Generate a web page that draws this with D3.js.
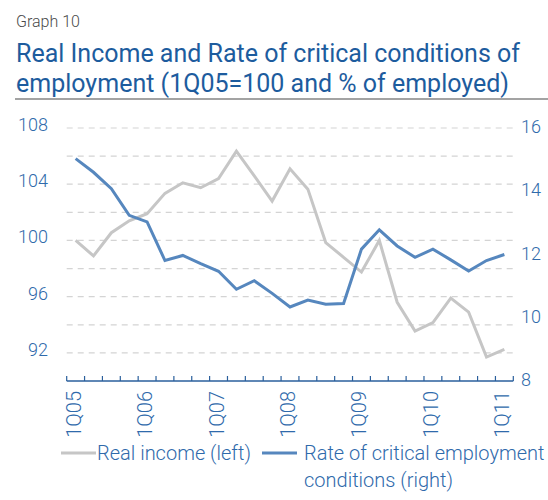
<!DOCTYPE html>
<html>
<head>
<meta charset="utf-8">
<script src="https://cdn.jsdelivr.net/npm/d3@7"></script>
<style>
  html, body { margin: 0; padding: 0; background: #fff; }
  svg { display: block; font-family: Roboto, "Noto Sans", sans-serif; }
</style>
</head>
<body>
<svg id="chart" width="548" height="500"></svg>
<script>
// Quarterly categories, 1Q05 .. 1Q11
const quarters = [
  "1Q05","2Q05","3Q05","4Q05",
  "1Q06","2Q06","3Q06","4Q06",
  "1Q07","2Q07","3Q07","4Q07",
  "1Q08","2Q08","3Q08","4Q08",
  "1Q09","2Q09","3Q09","4Q09",
  "1Q10","2Q10","3Q10","4Q10",
  "1Q11"
];
// Real income index (1Q05 = 100), left axis
const realIncome = [
  100.0, 98.9, 100.55, 101.4,
  101.9, 103.35, 104.1, 103.75,
  104.4, 106.35, 104.6, 102.8,
  105.1, 103.65, 99.85, 98.8,
  97.75, 100.0, 95.6, 93.55,
  94.15, 95.9, 94.9, 91.7,
  92.25
];
// Rate of critical employment conditions (% of employed), right axis
const criticalRate = [
  15.03, 14.6, 14.08, 13.24,
  13.03, 11.81, 11.97, 11.71,
  11.47, 10.9, 11.17, 10.77,
  10.34, 10.56, 10.43, 10.45,
  12.17, 12.78, 12.27, 11.91,
  12.17, 11.83, 11.48, 11.81,
  12.0
];
const leftTicks = [92, 96, 100, 104, 108];
const rightTicks = [8, 10, 12, 14, 16];
const gridValues = [92, 94, 96, 98, 100, 102, 104, 106, 108];
const labelledQuarters = ["1Q05","1Q06","1Q07","1Q08","1Q09","1Q10","1Q11"];

const svg = d3.select("#chart");
const plot = { left: 66.7, right: 513.3, top: 128, bottom: 381 };

const blueText = "#2f6aab";
const blueLine = "#5687be";
const greyLine = "#c6c6c6";

// Heading
svg.append("text").attr("x", 16).attr("y", 27)
  .attr("font-size", 16).attr("fill", "#4a4a4a").attr("font-weight", 300)
  .text("Graph 10");
svg.append("text").attr("x", 16).attr("y", 62)
  .attr("font-size", 25).attr("fill", "#1d5c9e")
  .text("Real Income and Rate of critical conditions of");
svg.append("text").attr("x", 16).attr("y", 92)
  .attr("font-size", 25).attr("fill", "#1d5c9e")
  .text("employment (1Q05=100 and % of employed)");
svg.append("line").attr("x1", 15).attr("x2", 548).attr("y1", 99).attr("y2", 99)
  .attr("stroke", "#a3a3a3").attr("stroke-width", 2);

// Scales
const x = d3.scaleBand().domain(quarters).range([plot.left, plot.right]).padding(0);
const yLeft = d3.scaleLinear().domain([90, 108]).range([plot.bottom, plot.top]);
const yRight = d3.scaleLinear().domain([8, 16]).range([plot.bottom, plot.top]);
const cx = q => x(q) + x.bandwidth() / 2;

// Dashed gridlines
svg.append("g").selectAll("line").data(gridValues).join("line")
  .attr("x1", plot.left).attr("x2", plot.right + 1)
  .attr("y1", d => yLeft(d)).attr("y2", d => yLeft(d))
  .attr("stroke", "#d4d4d4").attr("stroke-width", 1.2)
  .attr("stroke-dasharray", "6,5");

// Left axis labels
svg.append("g").selectAll("text").data(leftTicks).join("text")
  .attr("x", 48).attr("y", d => yLeft(d) + 3)
  .attr("text-anchor", "end").attr("font-size", 18).attr("font-weight", 300)
  .attr("fill", blueText).text(d => d);

// Right axis labels
svg.append("g").selectAll("text").data(rightTicks).join("text")
  .attr("x", 521).attr("y", d => yRight(d) + 5)
  .attr("text-anchor", "start").attr("font-size", 18).attr("font-weight", 300)
  .attr("fill", blueText).text(d => d);

// Category axis with tick marks at band boundaries
const boundaries = quarters.map(q => x(q)).concat([x.range()[1]]);
const axis = svg.append("g");
axis.append("line").attr("x1", plot.left).attr("x2", plot.right)
  .attr("y1", plot.bottom).attr("y2", plot.bottom)
  .attr("stroke", "#2a5f9c").attr("stroke-width", 1.5);
axis.selectAll("line.tick").data(boundaries).join("line").attr("class", "tick")
  .attr("x1", d => d).attr("x2", d => d)
  .attr("y1", plot.bottom).attr("y2", plot.bottom - 5)
  .attr("stroke", "#2a5f9c").attr("stroke-width", 1.2);
axis.selectAll("text").data(labelledQuarters).join("text")
  .attr("transform", d => `translate(${cx(d) + 5},${plot.bottom + 10}) rotate(-90)`)
  .attr("text-anchor", "end").attr("font-size", 20).attr("font-weight", 300)
  .attr("fill", blueText).text(d => d);

// Series lines
const incomeLine = d3.line().x((d, i) => cx(quarters[i])).y(d => yLeft(d));
const rateLine = d3.line().x((d, i) => cx(quarters[i])).y(d => yRight(d));
svg.append("path").datum(realIncome).attr("d", incomeLine)
  .attr("fill", "none").attr("stroke", greyLine).attr("stroke-width", 3)
  .attr("stroke-linejoin", "miter");
svg.append("path").datum(criticalRate).attr("d", rateLine)
  .attr("fill", "none").attr("stroke", blueLine).attr("stroke-width", 3)
  .attr("stroke-linejoin", "miter");

// Legend
const legend = svg.append("g").attr("font-size", 20).attr("font-weight", 300).attr("fill", blueText);
legend.append("line").attr("x1", 61).attr("x2", 96).attr("y1", 453).attr("y2", 453)
  .attr("stroke", greyLine).attr("stroke-width", 3);
legend.append("text").attr("x", 97).attr("y", 460).text("Real income (left)");
legend.append("line").attr("x1", 262).attr("x2", 297).attr("y1", 453).attr("y2", 453)
  .attr("stroke", blueLine).attr("stroke-width", 3);
legend.append("text").attr("x", 304).attr("y", 460).text("Rate of critical employment");
legend.append("text").attr("x", 304).attr("y", 487).text("conditions (right)");
</script>
</body>
</html>
